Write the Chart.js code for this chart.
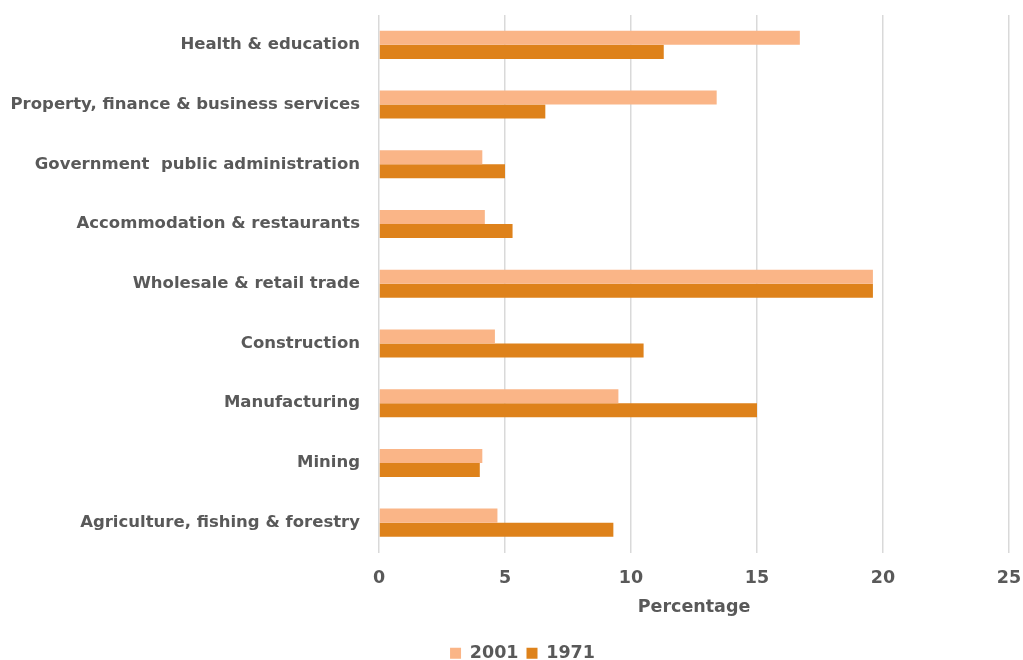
<!DOCTYPE html>
<html>
<head>
<meta charset="utf-8">
<script src="https://cdn.jsdelivr.net/npm/chart.js@4/dist/chart.umd.min.js"></script>
<style>
  html, body { margin: 0; padding: 0; background: #ffffff; }
  #wrap { width: 1023px; height: 660px; overflow: hidden; }
</style>
</head>
<body>
<div id="wrap"><canvas id="chart" width="1023" height="660"></canvas></div>
<script>
// Employment share by industry (%), 2001 vs 1971
const industries = [
  'Health & education',
  'Property, finance & business services',
  'Government  public administration',
  'Accommodation & restaurants',
  'Wholesale & retail trade',
  'Construction',
  'Manufacturing',
  'Mining',
  'Agriculture, fishing & forestry'
];
const share2001 = [16.7, 13.4, 4.1, 4.2, 19.6, 4.6, 9.5, 4.1, 4.7];
const share1971 = [11.3, 6.6, 5.0, 5.3, 19.6, 10.5, 15.0, 4.0, 9.3];
const xTicks = [0, 5, 10, 15, 20, 25];

const baseFamily = '"DejaVu Sans", sans-serif';
const labelFont = { family: baseFamily, size: 17.5, weight: 'bold' };
const categoryFont = { family: baseFamily, size: 16.5, weight: 'bold' };
const textColor = '#595959';

// Keep the plot area edges fixed: drop the extra room Chart.js reserves for edge labels
const noEdgePadding = s => {
  s.paddingLeft = 0; s.paddingRight = 0; s.paddingTop = 0; s.paddingBottom = 0;
};

// Nudge the bottom legend so it sits centred under the plot
const legendShift = {
  id: 'legendShift',
  afterLayout(chart) {
    if (chart.legend) { chart.legend.left += 18; chart.legend.right += 18; }
  }
};

new Chart(document.getElementById('chart'), {
  type: 'bar',
  data: {
    labels: industries,
    datasets: [
      { label: '2001', data: share2001, backgroundColor: '#FAB587', borderWidth: 0 },
      { label: '1971', data: share1971, backgroundColor: '#DE821B', borderWidth: 0 }
    ]
  },
  plugins: [legendShift],
  options: {
    indexAxis: 'y',
    responsive: false,
    animation: false,
    devicePixelRatio: 1,
    layout: { padding: { top: 15, right: 14, left: 0, bottom: -12 } },
    datasets: { bar: { categoryPercentage: 0.47, barPercentage: 1.0 } },
    scales: {
      x: {
        min: xTicks[0],
        max: xTicks[xTicks.length - 1],
        afterBuildTicks: s => { s.ticks = xTicks.map(v => ({ value: v })); },
        grid: { color: '#d9d9d9', lineWidth: 1.5, drawTicks: false },
        border: { display: false },
        ticks: { color: textColor, font: labelFont, padding: 15 },
        title: { display: true, text: 'Percentage', color: textColor, font: labelFont, padding: { top: 4, bottom: 19 } },
        afterFit: s => { noEdgePadding(s); s.height = 84; }
      },
      y: {
        grid: { display: false, drawTicks: false },
        border: { display: false },
        ticks: { color: textColor, font: categoryFont, padding: 19 },
        afterFit: s => { noEdgePadding(s); s.width = 379; }
      }
    },
    plugins: {
      legend: {
        position: 'bottom',
        labels: { color: textColor, font: labelFont, boxWidth: 11, boxHeight: 11, padding: 8 }
      },
      tooltip: { enabled: false }
    }
  }
});
</script>
</body>
</html>
